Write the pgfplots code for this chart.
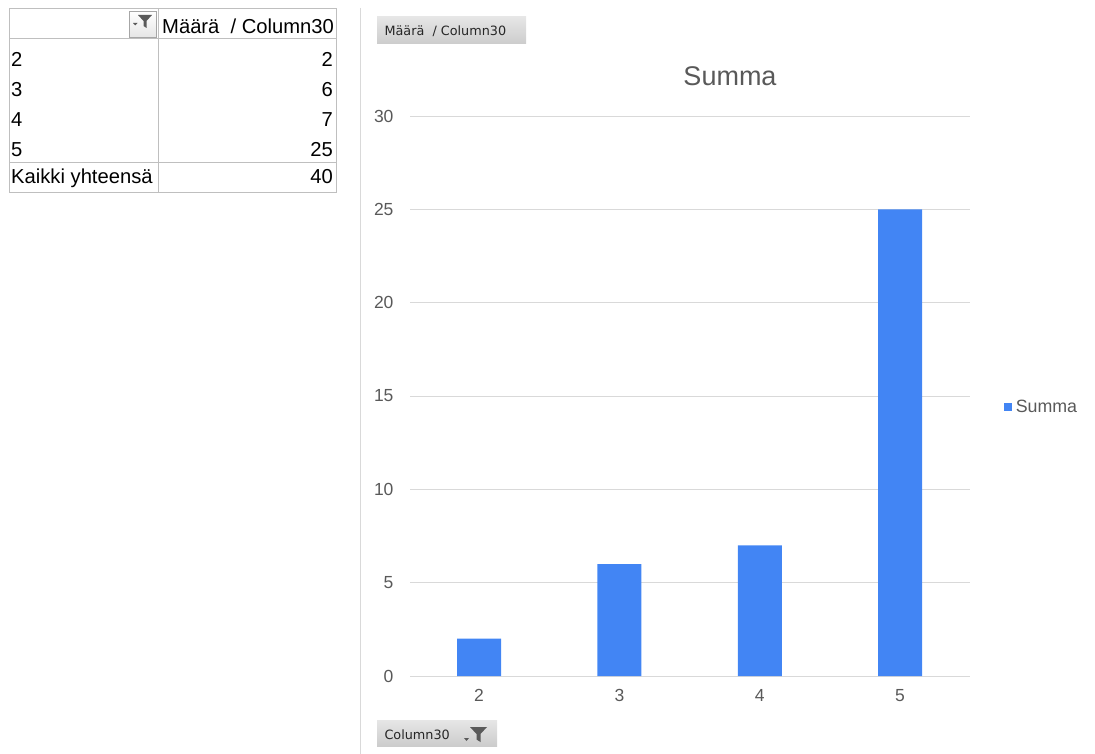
\documentclass[border=0pt]{standalone}
\usepackage{fontspec}
\setmainfont{Liberation Sans}
\newfontfamily\btnfont{DejaVu Sans}
\usepackage{pgfplots}
\pgfplotsset{compat=1.18}
\definecolor{barblue}{HTML}{4285F4}
\definecolor{gridgray}{HTML}{D9D9D9}
\definecolor{txtgray}{HTML}{595959}
\definecolor{cellline}{HTML}{BFBFBF}
\definecolor{btntop}{HTML}{E6E6E6}
\definecolor{btnbot}{HTML}{CCCCCC}
\definecolor{icongray}{HTML}{5A5A5A}
\begin{document}
\begin{tikzpicture}
% pivot chart
\begin{axis}[
  at={(410pt,-676pt)}, anchor=south west,
  scale only axis, width=560pt, height=560pt,
  xmin=1.508, xmax=5.498, ymin=0, ymax=30,
  xtick={2,3,4,5}, ytick={0,5,...,30},
  ybar, bar width=44pt,
  axis line style={draw=none},
  major tick length=0pt,
  ymajorgrids, grid style={gridgray, line width=1pt},
  tick label style={font=\fontsize{17.5}{20}\selectfont, text=txtgray},
  /pgf/number format/assume math mode=true,
  yticklabel style={xshift=-13pt},
  xticklabel style={yshift=-10pt},
  legend style={at={(rel axis cs:1.06,0.48)}, anchor=west, draw=none, fill=none,
    inner sep=0pt, font=\fontsize{17.8}{20}\selectfont, text=txtgray},
  legend image code/.code={\fill[barblue] (0pt,-4pt) rectangle (8pt,4pt);},
]
\addplot[fill=barblue, draw=none] coordinates {(2,2) (3,6) (4,7) (5,25)};
\addlegendentry{\hspace{2pt}Summa}
\end{axis}
\begin{scope}[x=1pt, y=-1pt]
  % chart title
  \node[text=txtgray, font=\fontsize{27}{30}\selectfont] at (730,76) {Summa};
  % separator between table and chart
  \draw[gridgray, line width=1pt] (360,8) -- (360,754);
  % field buttons
  \shade[top color=btntop, bottom color=btnbot] (377,17) rectangle (526,44);
  \node[anchor=base west, font=\btnfont\fontsize{12.8}{14}\selectfont, text=black!85] at (381,36) {Määrä\ \ / Column30};
  \shade[top color=btntop, bottom color=btnbot] (377,720) rectangle (497,746);
  \node[anchor=base west, font=\btnfont\fontsize{12.8}{14}\selectfont, text=black!85] at (381,739) {Column30};
  \fill[icongray] (470,727) -- (487,727) -- (480.5,734) -- (480.5,742) -- (476.5,739.5) -- (476.5,734) -- cycle;
  \fill[icongray] (464,738) -- (469,738) -- (466.5,741) -- cycle;
  % pivot table grid
  \draw[cellline, line width=1pt] (9,9) rectangle (336,193);
  \draw[cellline, line width=1pt] (158,9) -- (158,193);
  \draw[cellline, line width=1pt] (9,38.5) -- (336,38.5);
  \draw[cellline, line width=1pt] (9,162.5) -- (336,162.5);
  % filter button in the table header
  \shade[top color=white, bottom color=btntop, draw=gray!70] (129,11) rectangle (156,37.5);
  \fill[icongray] (138,15) -- (152,15) -- (146.5,21) -- (146.5,28) -- (143.5,26) -- (143.5,21) -- cycle;
  \fill[icongray] (133,23) -- (137.5,23) -- (135.25,25.5) -- cycle;
  % table text
  \begin{scope}[every node/.style={font=\fontsize{20.2}{22}\selectfont, inner sep=0pt}]
    \node[anchor=base west] at (162,33.3) {Määrä\ \ / Column30};
    \node[anchor=base west] at (11,66.7) {2};
    \node[anchor=base west] at (11,97) {3};
    \node[anchor=base west] at (11,127) {4};
    \node[anchor=base west] at (11,157) {5};
    \node[anchor=base west] at (11,184) {Kaikki yhteensä};
    \node[anchor=base east] at (333,66.7) {2};
    \node[anchor=base east] at (333,97) {6};
    \node[anchor=base east] at (333,127) {7};
    \node[anchor=base east] at (333,157) {25};
    \node[anchor=base east] at (333,184) {40};
  \end{scope}
\end{scope}
\pgfresetboundingbox
\useasboundingbox (0pt,0pt) rectangle (1095pt,-754pt);
\end{tikzpicture}
\end{document}
